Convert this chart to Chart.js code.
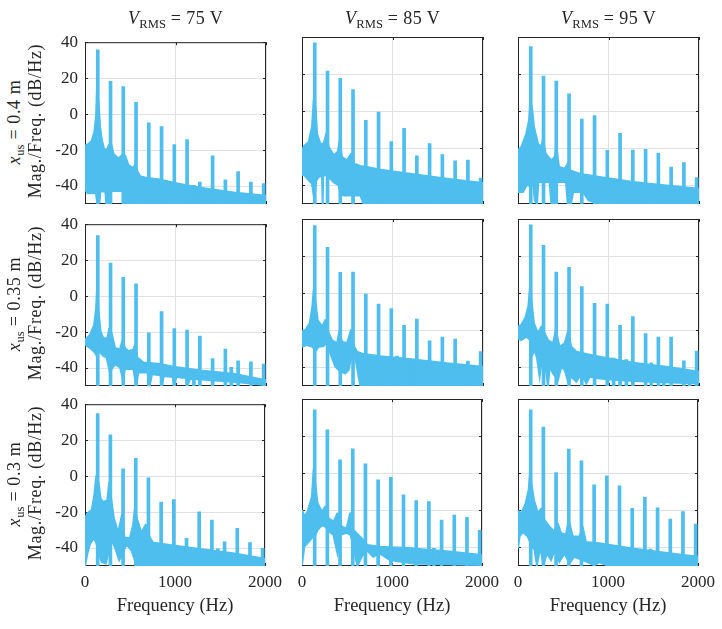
<!DOCTYPE html>
<html>
<head>
<meta charset="utf-8">
<script src="https://cdn.jsdelivr.net/npm/chart.js@4/dist/chart.umd.min.js"></script>
<style>
  body { margin: 0; background: #fff; }
  #fig { position: relative; width: 722px; height: 629px; font-family: "Liberation Serif", serif; color: #262626; }
  #fig canvas { position: absolute; }
  .title { position: absolute; font-size: 18px; letter-spacing: 0.4px; transform: translate(-50%, -50%); white-space: nowrap; }
  .ylab { position: absolute; font-size: 18px; letter-spacing: 0.6px; transform: translate(-50%, -50%) rotate(-90deg); white-space: nowrap; }
  sub { font-size: 0.7em; vertical-align: -0.32em; line-height: 0; letter-spacing: 0; }
</style>
</head>
<body>
<div id="fig"></div>
<script>
// columns and rows
const voltages = [75, 85, 95];        // V_RMS (V)
const positions = [0.4, 0.35, 0.3];   // x_us (m)

const xTicks = [0, 1000, 2000];
const yTicks = [-40, -20, 0, 20, 40];

// harmonic frequencies (Hz)
const harmonicFreqs = [141, 282, 423, 564, 705, 846, 987, 1128, 1269, 1410, 1551, 1692, 1833, 1974];

// peak heights at each harmonic (dB/Hz)
const peaks_75_040 = [35.7, 18.2, 15.3, 6.5, -4.9, -7, -16.9, -14.2, -37.8, -23.2, -36.6, -32, -37.8, -38.6];
const peaks_85_040 = [36.9, 21.6, 17.7, 11.7, -4.9, -0.5, -16.4, -9.2, -24, -17.5, -23.4, -26.8, -26.3, -36];
const peaks_95_040 = [34.8, 18.9, 16.2, 9.4, -4.3, -2.3, -21.1, -11.9, -21, -20.5, -22.7, -30.1, -27.7, -35.7];
const peaks_75_035 = [33.7, 18.4, 10.5, 6.8, -20.4, -8.6, -18, -18.9, -22.2, -34.8, -29.4, -36, -36.6, -37.8];
const peaks_85_035 = [36.4, 24.7, 11.2, 11.4, -0.5, -5.9, -8.3, -17.3, -13.9, -25.6, -23.6, -24.7, -36.6, -31.4];
const peaks_95_035 = [36.8, 25.8, 11.4, 14, 3.6, -5.4, -5.8, -17.3, -12.6, -21.8, -23.6, -23.6, -36.4, -31.2];
const peaks_75_030 = [34.8, 22.9, 4, 9.9, -1, -14.4, -13, -34.6, -19.8, -24.5, -36.6, -29, -37, -40.2];
const peaks_85_030 = [34.2, 23.4, 7.2, 13.2, 5, -3.6, -2.2, -11.7, -14.8, -15.3, -25.2, -22.5, -23.8, -30.8];
const peaks_95_030 = [34.2, 24.9, 0.4, 13, 6.7, -6.3, -1.4, -6.8, -18.9, -13, -18.6, -24.7, -20.7, -27.4];

// small non-harmonic peaks [Hz, dB/Hz]
const extra_75_040 = [[1203, -39.6]];
const extra_85_040 = [];
const extra_95_040 = [];
const extra_75_035 = [[1203, -42.9], [1616, -39.6]];
const extra_85_035 = [[1050, -33.9], [1197, -35.7]];
const extra_95_035 = [[1057, -35], [1197, -35.7], [1473, -37.5], [1610, -39.6], [1897, -41.6]];
const extra_75_030 = [[1476, -40.5]];
const extra_85_030 = [[1466, -40.5]];
const extra_95_030 = [[1473, -40.9], [1620, -44]];

// upper edge of the broadband spectrum [Hz, dB/Hz]
const upper_75_040 = [[0,-17.5],[26,-17],[74,-15],[103,-10],[122,-1.3],[133,15],[151,6],[166,-6.7],[185,-14],[210,-19.3],[240,-20],[266,-17],[292,-17],[314,-22],[369,-24.7],[406,-23],[443,-23],[480,-28.3],[535,-30],[560,-27],[572,-31],[609,-34.6],[683,-35.5],[830,-36.4],[978,-38.2],[1273,-40.9],[1642,-43.6],[2000,-45.4]];
const upper_85_040 = [[0,-22],[18,-19],[74,-16.6],[110,-8.5],[129,6],[151,2],[166,-12],[203,-17.5],[239,-17.5],[269,-12],[295,-19.3],[350,-23.8],[394,-22],[416,-16],[442,-24.7],[497,-26.5],[541,-23],[578,-28.3],[645,-29.5],[718,-30],[865,-31.5],[1234,-34],[1602,-36.4],[2000,-38.7]];
const upper_95_040 = [[0,-21],[37,-19.3],[92,-12],[122,-4.9],[136,6],[158,0.5],[177,-8.5],[221,-17.5],[258,-19.3],[276,-15],[306,-22.9],[368,-26.5],[405,-24.7],[424,-19],[453,-30],[516,-31],[552,-28],[578,-31.9],[681,-33.7],[902,-35.5],[1271,-38.2],[1639,-40],[2000,-41.8]];
const upper_75_035 = [[0,-24.3],[55,-21.6],[100,-16.2],[122,-7.2],[133,3.6],[151,-9],[173,-19.8],[203,-23.4],[247,-23.4],[269,-18],[295,-20.7],[332,-28.8],[387,-29.7],[410,-25.2],[443,-28.8],[480,-30.6],[535,-29.7],[554,-27],[579,-34.2],[646,-36.9],[830,-37.8],[978,-39.3],[1273,-41.4],[1642,-43.2],[2000,-46.8]];
const upper_85_035 = [[0,-20.7],[37,-19.8],[85,-16.2],[114,-7.2],[129,1.8],[155,-7],[173,-14.4],[221,-18],[258,-14.4],[295,-21.6],[331,-25.2],[387,-27],[412,-20.7],[442,-26.1],[497,-27],[541,-19.8],[578,-28.8],[608,-31.5],[681,-32.8],[865,-33.9],[1234,-35.7],[1602,-37.8],[2000,-39.6]];
const upper_95_035 = [[0,-18],[37,-17.1],[85,-12.6],[114,-7.2],[133,3.6],[155,-7],[177,-16.2],[221,-21.6],[258,-18],[295,-21.6],[331,-25.2],[387,-27],[416,-20],[460,-28.8],[516,-27],[552,-20.7],[589,-28.8],[645,-31.5],[755,-32.8],[902,-34.2],[1271,-37.5],[1639,-39.6],[2000,-42.3]];
const upper_75_030 = [[0,-23.4],[26,-20.7],[74,-18.9],[103,-10.8],[125,0],[151,-3.6],[173,-12.6],[203,-14.4],[247,-13.5],[269,-3.6],[295,-14],[321,-23.4],[369,-31.5],[410,-21.6],[439,-34.2],[498,-34.5],[535,-27],[554,-18],[579,-24],[627,-31.5],[675,-27],[720,-34.2],[756,-37],[830,-37.5],[978,-38.6],[1273,-40.5],[1642,-42.9],[2000,-46]];
const upper_85_030 = [[0,-19.8],[26,-23.4],[63,-20.7],[110,-12.6],[129,1.8],[151,-7.2],[173,-16.2],[221,-20.7],[258,-18],[295,-24.3],[350,-26.1],[394,-21.6],[442,-28.8],[497,-29.7],[534,-21.6],[571,-30.6],[626,-33.3],[681,-36],[726,-38.7],[865,-39.6],[1234,-40.5],[1602,-42],[2000,-44.1]];
const upper_95_030 = [[0,-20.2],[37,-21.6],[85,-16.2],[118,-9],[133,0],[155,-7.2],[177,-14.4],[221,-21.6],[258,-19],[295,-25.2],[350,-28.8],[405,-31.5],[442,-27],[479,-32.4],[534,-33],[563,-25.2],[608,-33.9],[681,-34.2],[718,-29],[755,-37],[902,-37.8],[1271,-40.5],[1639,-42.9],[2000,-45]];

// lower edge of the broadband spectrum [Hz, dB/Hz]
const lower_75_040 = [[0,-42],[30,-44],[120,-44],[135,-49],[160,-49],[170,-43],[225,-43],[235,-50],[255,-50],[270,-42.7],[420,-42.7],[440,-50],[2000,-50]];
const lower_85_040 = [[0,-34.6],[18,-34],[74,-37.3],[110,-39],[129,-45.4],[140,-46],[158,-37.3],[184,-35.5],[221,-34.6],[228,-50],[235,-35],[276,-33.7],[313,-36.4],[350,-38.2],[405,-40],[424,-44.5],[460,-45.4],[645,-45.4],[681,-50],[2000,-50]];
const lower_95_040 = [[0,-43.6],[55,-43.6],[92,-40],[170,-40],[185,-48],[210,-50],[225,-38.2],[350,-38.2],[368,-50],[405,-50],[424,-38.2],[530,-38.2],[550,-50],[585,-50],[610,-43.6],[720,-43.6],[780,-48],[902,-50],[2000,-50]];
const lower_75_035 = [[0,-27],[55,-28.8],[111,-31.5],[137,-34],[155,-30.6],[203,-33.3],[240,-34.2],[277,-43.2],[295,-40.5],[332,-37.8],[387,-39.6],[417,-46],[443,-40.5],[535,-40.5],[565,-50],[590,-42.5],[690,-42.5],[715,-50],[740,-43.5],[835,-44],[850,-50],[870,-44.5],[970,-45],[985,-50],[1010,-45],[1115,-45.5],[1130,-50],[1162,-46],[1642,-47.7],[2000,-49.5]];
const lower_85_035 = [[0,-28.8],[55,-27.9],[110,-28.8],[158,-30.6],[184,-28.8],[239,-28.5],[276,-26.1],[313,-32.4],[368,-39.6],[424,-42.3],[479,-43.2],[516,-41.4],[552,-32.4],[578,-30.6],[600,-37.8],[626,-45],[645,-50],[2000,-50]];
const lower_95_035 = [[0,-24.3],[37,-25.2],[92,-23.4],[136,-25.2],[158,-33.3],[184,-30.6],[210,-35],[239,-45],[269,-34.2],[313,-43.2],[331,-50],[350,-39.6],[387,-43.2],[442,-46.8],[479,-39.6],[516,-41.4],[552,-47.7],[589,-45],[645,-47.7],[700,-43.2],[755,-48.6],[792,-45],[902,-46],[1086,-46.8],[1455,-47.7],[2000,-48.6]];
const lower_75_030 = [[0,-50],[26,-43.2],[55,-37.8],[100,-34.2],[129,-37.8],[155,-43.2],[185,-47.7],[232,-48.6],[277,-39.6],[299,-36],[332,-39.6],[380,-46.8],[417,-43.2],[461,-37.8],[517,-41.4],[554,-46.8],[572,-50],[2000,-50]];
const lower_85_030 = [[0,-49.5],[26,-39.6],[74,-37],[122,-34.2],[147,-33.5],[173,-30.6],[221,-27.9],[258,-28.8],[306,-31.5],[350,-33.3],[394,-43.2],[431,-33],[497,-32.1],[541,-33.3],[578,-41.4],[615,-50],[663,-45],[718,-41.4],[792,-45],[865,-43.2],[976,-46.8],[1234,-48.6],[2000,-49.5]];
const lower_95_030 = [[0,-40.5],[18,-34],[55,-31.5],[110,-34.2],[147,-38.7],[184,-41.4],[210,-49.5],[247,-40],[284,-49.5],[320,-43.2],[368,-46.8],[405,-41.4],[460,-47.7],[516,-43.2],[571,-48.6],[626,-45],[718,-46.8],[847,-49.5],[902,-48],[1013,-50],[2000,-50]];

const panels = [
  [peaks_75_040, extra_75_040, upper_75_040, lower_75_040],
  [peaks_85_040, extra_85_040, upper_85_040, lower_85_040],
  [peaks_95_040, extra_95_040, upper_95_040, lower_95_040],
  [peaks_75_035, extra_75_035, upper_75_035, lower_75_035],
  [peaks_85_035, extra_85_035, upper_85_035, lower_85_035],
  [peaks_95_035, extra_95_035, upper_95_035, lower_95_035],
  [peaks_75_030, extra_75_030, upper_75_030, lower_75_030],
  [peaks_85_030, extra_85_030, upper_85_030, lower_85_030],
  [peaks_95_030, extra_95_030, upper_95_030, lower_95_030],
];

const blue = '#4DBEEE';
const ink = '#262626';
const gridColor = '#e1e1e1';
const fontFamily = '"Liberation Serif", serif';

// axes box positions on the page
const boxLeft = [85, 302, 518];
const boxTop = [37, 219, 399];
const boxW = 181, boxH = 167;
const padL = 50, padT = 12, padR = 22, padB = 52;

const fig = document.getElementById('fig');

// box + inward tick marks, drawn under the data like MATLAB does
const boxPlugin = {
  id: 'box',
  beforeDatasetsDraw(chart) {
    const { ctx, chartArea: a, scales } = chart;
    ctx.save();
    ctx.strokeStyle = ink;
    ctx.lineWidth = 1;
    ctx.strokeRect(a.left + 0.5, a.top + 0.5, a.width - 1, a.height - 1);
    ctx.beginPath();
    yTicks.forEach((v) => {
      const y = Math.round(scales.y.getPixelForValue(v)) + 0.5;
      ctx.moveTo(a.left, y); ctx.lineTo(a.left + 3, y);
      ctx.moveTo(a.right, y); ctx.lineTo(a.right - 3, y);
    });
    xTicks.forEach((v) => {
      const x = Math.round(scales.x.getPixelForValue(v)) + 0.5;
      ctx.moveTo(x, a.bottom); ctx.lineTo(x, a.bottom - 3);
      ctx.moveTo(x, a.top); ctx.lineTo(x, a.top + 3);
    });
    ctx.stroke();
    ctx.restore();
  },
};

panels.forEach(([peaks, extra, upper, lower], i) => {
  const row = Math.floor(i / 3);
  const col = i % 3;

  const canvas = document.createElement('canvas');
  canvas.width = padL + boxW + padR;
  canvas.height = padT + boxH + padB;
  canvas.style.left = (boxLeft[col] - padL) + 'px';
  canvas.style.top = (boxTop[row] - padT) + 'px';
  fig.appendChild(canvas);

  const peakBars = harmonicFreqs.map((f, k) => ({ x: f, y: [-50, peaks[k]] }))
    .concat(extra.map(([f, v]) => ({ x: f, y: [-50, v] })));

  new Chart(canvas, {
    type: 'line',
    data: {
      datasets: [
        {
          data: lower.map(([x, y]) => ({ x, y })),
          borderColor: blue,
          borderWidth: 2,
          pointRadius: 0,
          fill: false,
          order: 2,
        },
        {
          data: upper.map(([x, y]) => ({ x, y })),
          borderColor: blue,
          backgroundColor: blue,
          borderWidth: 2,
          borderJoinStyle: 'round',
          pointRadius: 0,
          fill: '-1',
          order: 2,
        },
        {
          type: 'bar',
          data: peakBars,
          backgroundColor: blue,
          barThickness: 3,
          borderRadius: 1.5,
          borderSkipped: 'start',
          grouped: false,
          order: 1,
        },
      ],
    },
    options: {
      responsive: false,
      animation: false,
      events: [],
      layout: { padding: { top: padT, right: padR, left: 0, bottom: 0 } },
      plugins: { legend: { display: false }, tooltip: { enabled: false } },
      scales: {
        x: {
          type: 'linear',
          min: 0,
          max: 2000,
          offset: false,
          afterBuildTicks: (ax) => { ax.ticks = xTicks.map((v) => ({ value: v })); },
          afterFit: (ax) => { ax.height = padB; },
          grid: { color: gridColor, drawTicks: false, offset: false },
          border: { display: false },
          ticks: {
            display: row === 2,
            autoSkip: false,
            maxRotation: 0,
            padding: 6,
            color: ink,
            font: { family: fontFamily, size: 17 },
            callback: (v) => String(v),
          },
          title: {
            display: row === 2,
            text: 'Frequency (Hz)',
            color: ink,
            font: { family: fontFamily, size: 18.5 },
            padding: { top: 0, bottom: 1 },
          },
        },
        y: {
          type: 'linear',
          min: -50,
          max: 40,
          afterBuildTicks: (ax) => { ax.ticks = yTicks.map((v) => ({ value: v })); },
          afterFit: (ax) => { ax.width = padL; },
          grid: { color: gridColor, drawTicks: false },
          border: { display: false },
          ticks: {
            display: col === 0,
            padding: 7,
            color: ink,
            font: { family: fontFamily, size: 17 },
            callback: (v) => String(v),
          },
        },
      },
    },
    plugins: [boxPlugin],
  });
});

// column titles
voltages.forEach((v, col) => {
  const d = document.createElement('div');
  d.className = 'title';
  d.style.left = (boxLeft[col] + boxW / 2) + 'px';
  d.style.top = '18px';
  d.innerHTML = '<i>V</i><sub>RMS</sub> = ' + v + ' V';
  fig.appendChild(d);
});

// row labels
positions.forEach((p, row) => {
  const cy = boxTop[row] + boxH / 2;
  const a = document.createElement('div');
  a.className = 'ylab';
  a.style.left = '14px';
  a.style.top = (cy + 1) + 'px';
  a.innerHTML = '<i>x</i><sub>us</sub> = ' + p + ' m';
  fig.appendChild(a);
  const b = document.createElement('div');
  b.className = 'ylab';
  b.style.left = '35px';
  b.style.top = cy + 'px';
  b.textContent = 'Mag./Freq. (dB/Hz)';
  fig.appendChild(b);
});
</script>
</body>
</html>
